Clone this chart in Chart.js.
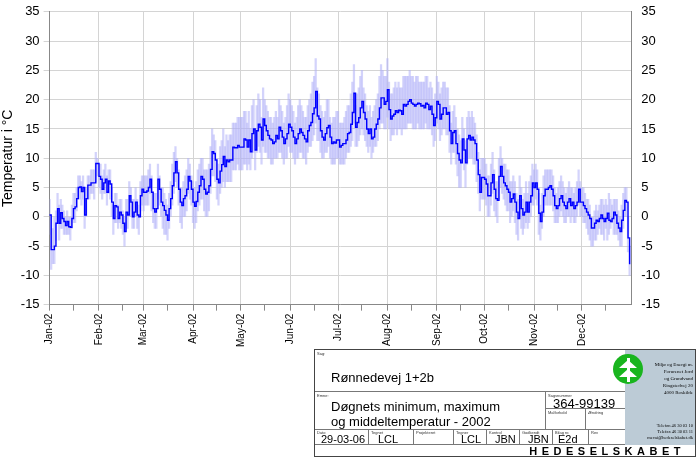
<!DOCTYPE html>
<html><head><meta charset="utf-8">
<script src="https://cdn.jsdelivr.net/npm/chart.js@4/dist/chart.umd.min.js"></script>
<style>
body{margin:0;background:#fff;font-family:"Liberation Sans",Arial,sans-serif;}
#wrap{position:absolute;left:0;top:0;width:698px;height:350px;}
#tb{position:absolute;left:314px;top:349px;width:382px;height:108px;border:1px solid #444;box-sizing:border-box;font-size:13px;overflow:hidden;white-space:nowrap}
.c{position:absolute;box-sizing:border-box;}
.s{position:absolute;font-size:4px;color:#333;top:1px;left:2px}
.h{border-top:1px solid #777}
.v{border-left:1px solid #777}
</style></head><body>
<div id="wrap"><canvas id="c"></canvas></div>
<div id="tb">
 <div class="c" style="left:0;top:0;width:230px;height:40px"><span class="s">Sag:</span><div style="position:absolute;left:16px;top:20px;font-size:13px">Rønnedevej 1+2b</div></div>
 <div class="c h" style="left:0;top:41px;width:230px;height:38px"><span class="s">Emne:</span><div style="position:absolute;left:16px;top:7px;font-size:13px;line-height:15px">Døgnets minimum, maximum<br>og middeltemperatur - 2002</div></div>
 <div class="c h v" style="left:230px;top:41px;width:80px;height:17px"><span class="s">Sagsnummer</span><div style="position:absolute;left:7px;top:4px">364-99139</div></div>
 <div class="c h v" style="left:230px;top:58px;width:40px;height:21px"><span class="s">Målforhold</span></div>
 <div class="c h v" style="left:270px;top:58px;width:40px;height:21px"><span class="s">Ændring</span></div>
 <div class="c h" style="left:0;top:79px;width:310px;height:16px;border-bottom:1px solid #777"></div>
 <div class="c" style="left:0;top:79px;width:53px;height:16px;font-size:11px"><span class="s">Dato</span><span style="position:absolute;left:6px;top:4px">29-03-06</span></div>
 <div class="c v" style="left:53px;top:79px;width:45px;height:16px;font-size:11px"><span class="s">Tegnet</span><span style="position:absolute;left:9px;top:4px">LCL</span></div>
 <div class="c v" style="left:98px;top:79px;width:40px;height:16px"><span class="s">Projekteret</span></div>
 <div class="c v" style="left:138px;top:79px;width:33px;height:16px;font-size:11px"><span class="s">Tegner</span><span style="position:absolute;left:7px;top:4px">LCL</span></div>
 <div class="c v" style="left:171px;top:79px;width:33px;height:16px;font-size:11px"><span class="s">Kontrol</span><span style="position:absolute;left:8px;top:4px">JBN</span></div>
 <div class="c v" style="left:204px;top:79px;width:33px;height:16px;font-size:11px"><span class="s">Godkendt</span><span style="position:absolute;left:8px;top:4px">JBN</span></div>
 <div class="c v" style="left:237px;top:79px;width:36px;height:16px;font-size:11px"><span class="s">Bilag nr.</span><span style="position:absolute;left:5px;top:4px">E2d</span></div>
 <div class="c v" style="left:273px;top:79px;width:37px;height:16px"><span class="s">Rev</span></div>
 <div class="c" style="left:310px;top:0;width:72px;height:95px;background:#bccbd6"></div>
 <div class="c" style="left:298px;top:4px;width:30px;height:30px;border-radius:50%;background:#19b51e"></div>
 <div class="c" style="left:312px;top:8px;width:3px;height:24px;background:#fff"></div>
 <div class="c" style="left:304px;top:10px;width:0;height:0;border-left:9px solid transparent;border-right:9px solid transparent;border-bottom:8px solid #fff"></div>
 <div class="c" style="left:304px;top:19px;width:0;height:0;border-left:9px solid transparent;border-right:9px solid transparent;border-bottom:8px solid #fff"></div>
 <div class="c" style="left:333px;top:11px;font-family:'Liberation Serif',serif;font-size:5px;line-height:7px;text-align:right;width:45px">Miljø og Energi m.<br>Forurenet Jord<br>og Grundvand<br>Ringstedvej 20<br>4000 Roskilde</div>
 <div class="c" style="left:330px;top:73px;font-family:'Liberation Serif',serif;font-size:4.5px;line-height:6px;text-align:right;width:48px">Telefon 46 30 03 10<br>Telefax 46 30 03 11<br>mevai@hedeselskabet.dk</div>
 <div class="c" style="left:0;top:95px;width:382px;text-align:right;padding-right:12px;font-weight:bold;letter-spacing:4.5px;font-size:11px;line-height:12px">HEDESELSKABET</div>
</div>
<script>
const months=["Jan-02","Feb-02","Mar-02","Apr-02","May-02","Jun-02","Jul-02","Aug-02","Sep-02","Oct-02","Nov-02","Dec-02"];
const meanJan=[0.3,-5.6,-5.6,-5,-1.1,1.4,-1.1,0.7,-0.3,-0.8,-1.5,-0.8,-1.7,-1.8,-0.3,1.4,1.7,3.1,5,5.1,4.3,5,0.3,3.1,5.4,5.4,5.8,5.8,5.8,9.1,9.1];
const meanFeb=[6.9,6.4,4.7,5.8,6.4,4.2,6.1,5.6,2.5,-0.3,1.9,1.7,-0.3,0.8,0.3,-1.1,-2.5,0.8,0.3,3.6,2.5,0,0.8,2.5,0.3,0,3.6,4.7];
const meanMar=[4.2,4.2,4.4,5,6.4,4.2,1.4,0.8,1.4,6.4,4.7,2.5,1.9,1.1,0.3,-0.6,1.4,3.1,5.3,7.5,9.4,7.5,4.7,2.5,1.9,3.1,3.6,4.7,6.9,6.1,4.7];
const meanApr=[2.5,1.8,2.6,4.2,5.3,6.9,6.4,4.7,3.9,4.2,5.3,8.1,11.1,10.8,9.7,6.4,5.8,7.8,8.9,10.3,8.6,9.7,9.4,9.7,9.7,11.9,11.8,11.8,12.2,11.9];
const meanMay=[11.9,11.9,13.3,13.1,11.9,13.1,11.1,14.2,15,11.4,14.7,15.8,15.3,13.1,16.7,15.6,14.7,13.9,13.3,13.1,12.5,12.8,13.9,13.3,15.3,14.7,13.6,12.5,13.3,14.2,15.8];
const meanJun=[15.3,14.7,13.6,12.5,13.3,14.2,15,14.4,13.9,13.3,12.8,14.7,15.6,16.1,17.6,18.6,21.4,17.2,16.7,14.7,13.6,13.1,14.2,15.2,15.6,13.6,12.5,12.8,12.6,13.1];
const meanJul=[13.1,11.9,12.2,12.5,12.5,13.1,14.2,14.4,15.8,17.8,21.1,15.3,16.1,16.9,18.6,19.7,17.8,16.7,15,14.2,15,13.3,13.6,15,15.8,16.7,18.6,20.3,20.3,19.2,19.7];
const meanAug=[21.7,18.3,16.7,17.2,17.5,18.1,17.8,18.2,18.1,17.5,19.2,18.9,19.2,19.7,20,19.4,19.2,18.9,19.2,19.4,19.3,18.9,19,18.6,19.4,19.2,18.3,18.9,17.5,15.6,16.9];
const meanSep=[19.7,19.2,16.7,17.5,18.6,18.6,17.5,17.8,14.7,12.5,14.4,14.7,12.5,10.8,9.7,9.2,13.3,11.4,9.2,13.3,13.9,13.1,13.6,13.1,12.5,9.7,7.2,4.2,6.7,6.7];
const meanOct=[6.4,5.6,3.6,3.6,5.8,7.2,4.7,3.1,2.8,6.9,8.6,6.9,5.8,5.3,4.7,4.2,2.5,3.1,3.9,2.5,0.8,-0.3,3.6,1.4,0.3,0.8,2.5,0.8,2.5,3.6,5.8];
const meanNov=[5,5.8,4.7,0.6,-0.8,0.8,3.6,4.7,4.7,5,5.3,4.7,3.6,1.9,1.4,1.9,3.1,3.6,2.5,1.9,1.4,2.5,3.1,1.9,2.5,1.4,1.9,2.5,4.7,2.5];
const meanDec=[2.5,1.9,1.4,0.8,0.3,-0.3,-1.9,-1.9,-1.1,-0.6,-0.8,-0.3,0.3,-0.3,-0.8,-0.3,0.6,-0.6,-0.8,-0.3,0.8,0.3,-1.1,-1.9,-2.5,-0.6,1.1,2.8,2.5,-3.6,-8.1];
const maxJan=[3,0,-2,0,1,4,2,3,2,1,0,1,0,0,2,4,4,5,7,7,6,7,3,5,7,7,8,8,8,11,10];
const minJan=[-3,-9,-8,-8,-4,-1,-4,-2,-2,-3,-3,-3,-3,-4,-2,-1,-1,1,3,3,2,3,-2,0,3,3,4,4,3,6,7];
const maxFeb=[9,9,7,8,9,7,8,8,5,2,4,4,2,3,3,1,0,3,3,6,5,3,3,5,3,2,6,7];
const minFeb=[5,4,3,4,4,2,4,3,0,-3,-1,-1,-2,-1,-2,-3,-5,-2,-2,1,0,-2,-2,0,-2,-3,1,2];
const maxMar=[7,7,7,8,9,7,4,4,4,9,7,5,5,4,3,2,4,6,9,11,12,10,8,5,5,6,7,8,10,9,7];
const minMar=[1,2,2,2,4,1,-1,-2,-2,3,2,0,-2,-3,-3,-4,-2,0,2,4,6,5,2,-1,-2,0,0,1,4,3,2];
const maxApr=[6,5,6,8,9,10,10,8,8,8,9,12,15,14,13,10,9,12,13,15,12,14,13,14,14,16,16,16,17,17];
const minApr=[-1,-2,-1,1,2,3,3,1,0,0,1,4,7,7,6,3,2,4,5,6,5,6,6,6,6,8,8,8,9,8];
const maxMay=[17,17,18,18,16,18,15,19,20,15,19,21,20,17,22,20,19,18,17,17,16,17,18,17,20,19,18,16,17,19,21];
const minMay=[8,8,9,9,8,9,8,10,11,8,11,12,11,9,12,11,11,10,10,9,9,10,10,10,11,11,10,9,10,10,12];
const maxJun=[20,19,18,16,17,19,20,19,18,17,17,19,20,21,23,24,27,22,21,19,18,17,18,20,20,17,16,17,17,18];
const minJun=[11,11,10,9,10,10,11,11,10,10,9,11,12,12,13,14,16,13,13,11,10,10,11,11,12,10,9,9,9,10];
const maxJul=[18,16,16,16,17,18,19,19,21,23,26,19,21,22,24,25,22,21,19,18,19,17,18,19,20,21,24,26,25,24,24];
const minJul=[10,9,9,9,9,10,11,11,12,13,16,12,12,13,14,15,14,13,12,11,12,10,11,12,12,13,15,16,16,15,15];
const maxAug=[27,23,21,21,22,23,22,23,22,22,24,24,24,24,25,24,24,23,24,24,23,23,23,23,24,24,22,23,22,20,21];
const minAug=[17,15,13,14,14,15,14,15,15,14,15,15,15,16,16,16,15,15,15,16,15,15,15,15,16,15,15,15,14,12,13];
const maxSep=[24,23,21,22,23,23,22,22,19,16,18,19,17,15,14,13,17,15,13,17,18,17,18,17,16,14,11,8,10,10];
const minSep=[16,15,13,14,15,15,14,14,11,9,11,11,9,7,5,5,10,8,5,9,10,10,10,9,9,6,4,1,3,3];
const maxOct=[10,9,7,7,9,11,8,6,6,10,12,10,9,9,8,8,6,6,7,6,4,3,7,5,3,4,6,4,6,7,9];
const minOct=[3,2,0,0,2,4,1,0,-1,3,5,4,3,2,1,1,-1,0,1,-1,-3,-4,0,-2,-3,-2,-1,-2,-1,0,2];
const maxNov=[8,9,8,4,2,4,7,8,8,8,8,8,7,5,4,5,6,7,6,5,4,5,6,5,5,4,5,6,8,6];
const minNov=[2,3,2,-3,-4,-2,0,2,2,2,2,2,1,-1,-1,-1,0,1,0,-1,-1,0,0,-1,0,-1,-1,0,2,0];
const maxDec=[5,5,4,3,3,2,0,0,1,2,1,2,3,3,2,3,2,4,3,2,3,3,3,1,0,2,4,5,5,0,-5];
const minDec=[0,-1,-1,-2,-3,-4,-5,-5,-4,-4,-3,-2,-3,-3,-4,-2,-4,-3,-2,-1,-3,-3,-3,-4,-5,-5,-2,0,0,-6,-10];
const yTicks=[-15,-10,-5,0,5,10,15,20,25,30,35];

const meanAll=[meanJan,meanFeb,meanMar,meanApr,meanMay,meanJun,meanJul,meanAug,meanSep,meanOct,meanNov,meanDec];
const maxAll=[maxJan,maxFeb,maxMar,maxApr,maxMay,maxJun,maxJul,maxAug,maxSep,maxOct,maxNov,maxDec];
const minAll=[minJan,minFeb,minMar,minApr,minMay,minJun,minJul,minAug,minSep,minOct,minNov,minDec];
const labels=[],mean=[],band=[],monthStart={},midMonth={};
meanAll.forEach((arr,m)=>{
  arr.forEach((v,d)=>{
    const idx=labels.length;
    if(d===0) monthStart[idx]=months[m];
    if(d===15) midMonth[idx]=true;
    labels.push(months[m]+"-"+(d+1));
    mean.push(v);
    band.push([minAll[m][d],maxAll[m][d]]);
  });
});
labels.push("end"); mean.push(null); band.push(null);

const yAxis=(pos)=>({
  type:'linear',position:pos,min:-15,max:35,
  afterBuildTicks:ax=>{ax.ticks=yTicks.map(v=>({value:v}));},
  ticks:{font:{family:'Liberation Sans',size:13},color:'#000',padding:4},
  grid:{display:pos==='left',color:'#d4d4d4',tickLength:6,drawTicks:true},
  border:{color:'#888'},
  title:{display:pos==='left',text:'Temperatur i °C',font:{family:'Liberation Sans',size:14},color:'#000',padding:0}
});

new Chart(document.getElementById('c'),{
  data:{labels,datasets:[
    {type:'line',data:mean,stepped:'before',borderColor:'#0000ff',borderWidth:1.4,pointRadius:0,order:0},
    {type:'bar',data:band,backgroundColor:'rgba(175,175,248,0.55)',barPercentage:1,categoryPercentage:1,order:1}
  ]},
  options:{
    responsive:true,maintainAspectRatio:false,animation:false,
    layout:{padding:{left:0,right:34,top:0,bottom:0}},
    plugins:{legend:{display:false},tooltip:{enabled:false}},
    scales:{
      x:{offset:false,
        ticks:{autoSkip:false,maxRotation:90,minRotation:90,font:{family:'Liberation Sans',size:10},color:'#000',
          callback:(v,i)=>monthStart[i]||''},
        grid:{offset:false,tickLength:6,
          color:c=>monthStart[c.index]||c.index===labels.length-1?'#d4d4d4':'rgba(0,0,0,0)',
          tickColor:c=>(monthStart[c.index]||midMonth[c.index])?'#888':'rgba(0,0,0,0)'},
        border:{color:'#888'}},
      y:yAxis('left'),
      y2:yAxis('right')
    }
  }
});
</script>
</body></html>
